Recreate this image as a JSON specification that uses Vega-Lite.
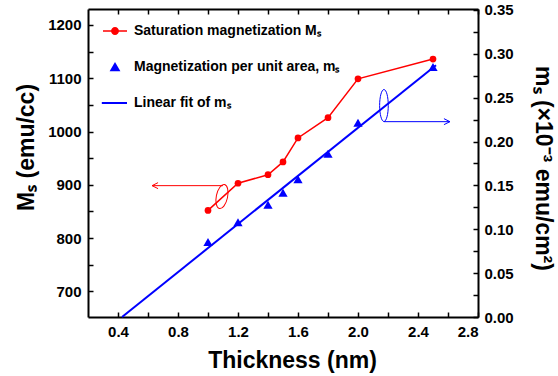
{
  "$schema": "https://vega.github.io/schema/vega-lite/v6.json",
  "width": 390,
  "height": 308,
  "autosize": {"type": "none"},
  "padding": {"left": 88, "top": 9, "right": 80, "bottom": 59},
  "background": "white",
  "config": {
    "view": {"stroke": null},
    "font": "Liberation Sans",
    "axis": {
      "domainColor": "black", "domainWidth": 2,
      "tickColor": "black", "tickWidth": 1.5, "tickSize": -5,
      "labelFont": "Liberation Sans", "labelFontWeight": "bold", "labelFontSize": 15, "labelColor": "black",
      "titleFont": "Liberation Sans", "titleFontWeight": "bold", "titleFontSize": 23, "titleColor": "black",
      "grid": false
    },
    "legend": {
      "orient": "none", "legendX": 15, "legendY": 10, "padding": 0,
      "labelFont": "Liberation Sans", "labelFontWeight": "bold", "labelFontSize": 14, "labelColor": "black",
      "labelLimit": 400, "symbolSize": 576, "labelOffset": 7, "rowPadding": 17,
      "symbolStrokeWidth": 0, "symbolOpacity": 1
    }
  },
  "datasets": {
    "Ms": [
      {"t": 1.0, "Ms": 852, "series": "Saturation magnetization Mₛ"},
      {"t": 1.2, "Ms": 903, "series": "Saturation magnetization Mₛ"},
      {"t": 1.4, "Ms": 919, "series": "Saturation magnetization Mₛ"},
      {"t": 1.5, "Ms": 943, "series": "Saturation magnetization Mₛ"},
      {"t": 1.6, "Ms": 988, "series": "Saturation magnetization Mₛ"},
      {"t": 1.8, "Ms": 1026, "series": "Saturation magnetization Mₛ"},
      {"t": 2.0, "Ms": 1099, "series": "Saturation magnetization Mₛ"},
      {"t": 2.5, "Ms": 1136, "series": "Saturation magnetization Mₛ"}
    ],
    "ms": [
      {"t": 1.0, "ms": 0.0856, "series": "Magnetization per unit area, mₛ"},
      {"t": 1.2, "ms": 0.108, "series": "Magnetization per unit area, mₛ"},
      {"t": 1.4, "ms": 0.128, "series": "Magnetization per unit area, mₛ"},
      {"t": 1.5, "ms": 0.1416, "series": "Magnetization per unit area, mₛ"},
      {"t": 1.6, "ms": 0.157, "series": "Magnetization per unit area, mₛ"},
      {"t": 1.8, "ms": 0.186, "series": "Magnetization per unit area, mₛ"},
      {"t": 2.0, "ms": 0.2215, "series": "Magnetization per unit area, mₛ"},
      {"t": 2.5, "ms": 0.285, "series": "Magnetization per unit area, mₛ"}
    ],
    "fit": [
      {"t": 0.427, "ms": 0.0},
      {"t": 2.52, "ms": 0.287}
    ],
    "redArrow": [{"t": 0.627, "t2": 1.1, "Ms": 898.5}],
    "redEllipse": [{"t": 1.093, "Ms": 878}],
    "blueArrow": [{"t": 2.613, "t2": 2.173, "ms": 0.2226}],
    "blueEllipse": [{"t": 2.173, "ms": 0.241}]
  },
  "layer": [
    {
      "encoding": {
        "x": {
          "field": "t", "type": "quantitative",
          "scale": {"domain": [0.2, 2.8], "nice": false, "zero": false},
          "axis": {
            "orient": "bottom",
            "values": [0.4, 0.6, 0.8, 1.0, 1.2, 1.4, 1.6, 1.8, 2.0, 2.2, 2.4, 2.6, 2.8],
            "labelExpr": "round(datum.value*10) % 4 == 0 ? format(datum.value, '.1f') : ''",
            "labelPadding": 12,
            "title": "Thickness (nm)",
            "titleX": 204, "titleY": 50, "titleBaseline": "alphabetic"
          }
        },
        "y": {
          "field": "Ms", "type": "quantitative",
          "scale": {"domain": [652, 1230], "nice": false, "zero": false},
          "axis": {
            "orient": "left",
            "values": [700, 750, 800, 850, 900, 950, 1000, 1050, 1100, 1150, 1200],
            "labelExpr": "datum.value % 100 == 0 ? datum.value : ''",
            "labelPadding": 12,
            "title": "Mₛ (emu/cc)",
            "titleX": -55, "titleY": 138, "titleBaseline": "alphabetic", "titleAngle": 270
          }
        }
      },
      "layer": [
        {
          "data": {"name": "Ms"},
          "transform": [{"filter": "false"}],
          "mark": {"type": "point", "filled": true, "size": 576, "opacity": 1},
          "encoding": {
            "color": {
              "field": "series", "type": "nominal",
              "scale": {
                "domain": ["Saturation magnetization Mₛ", "Magnetization per unit area, mₛ", "Linear fit of mₛ"],
                "range": ["#ff0000", "#0000ff", "#0000ff"]
              },
              "legend": {"title": null}
            },
            "shape": {
              "field": "series", "type": "nominal",
              "scale": {
                "domain": ["Saturation magnetization Mₛ", "Magnetization per unit area, mₛ", "Linear fit of mₛ"],
                "range": [
                  "M-1,-0.0625H1V0.0625H-1Z M-0.33,0A0.33,0.33 0 1,1 0.33,0A0.33,0.33 0 1,1 -0.33,0Z",
                  "M0,-0.42L0.45,0.36L-0.45,0.36Z",
                  "M-1.1,-0.085H1V0.085H-1.1Z"
                ]
              },
              "legend": {"title": null}
            }
          }
        },
        {"data": {"name": "Ms"}, "mark": {"type": "line", "color": "#ff0000", "strokeWidth": 1.5}},
        {
          "data": {"name": "Ms"},
          "mark": {"type": "point", "shape": "circle", "filled": true, "size": 45, "opacity": 1},
          "encoding": {"color": {"field": "series", "type": "nominal"}}
        },
        {
          "data": {"name": "redArrow"},
          "mark": {"type": "rule", "color": "#ff0000", "strokeWidth": 1},
          "encoding": {"x2": {"field": "t2"}}
        },
        {
          "data": {"name": "redArrow"},
          "mark": {"type": "point", "shape": "M1,-0.5L0,0L1,0.5", "filled": false, "size": 144, "color": "#ff0000", "strokeWidth": 1, "opacity": 1}
        },
        {
          "data": {"name": "redEllipse"},
          "mark": {"type": "point", "shape": "M0,-1A0.46,1 0 1,1 0,1A0.46,1 0 1,1 0,-1Z", "filled": false, "size": 600, "angle": 12, "color": "#ff0000", "strokeWidth": 1, "opacity": 1}
        }
      ]
    },
    {
      "encoding": {
        "x": {
          "field": "t", "type": "quantitative",
          "scale": {"domain": [0.2, 2.8], "nice": false, "zero": false},
          "axis": {
            "orient": "top",
            "values": [0.4, 0.6, 0.8, 1.0, 1.2, 1.4, 1.6, 1.8, 2.0, 2.2, 2.4, 2.6, 2.8],
            "labels": false,
            "title": null
          }
        },
        "y": {
          "field": "ms", "type": "quantitative",
          "scale": {"domain": [0, 0.351], "nice": false, "zero": false},
          "axis": {
            "orient": "right",
            "values": [0, 0.025, 0.05, 0.075, 0.1, 0.125, 0.15, 0.175, 0.2, 0.225, 0.25, 0.275, 0.3, 0.325, 0.35],
            "labelExpr": "round(datum.value*1000) % 50 == 0 ? format(datum.value, '.2f') : ''",
            "labelPadding": 11,
            "title": "mₛ (×10⁻³ emu/cm²)",
            "titleX": 57, "titleY": 159, "titleBaseline": "alphabetic", "titleAngle": 90
          }
        }
      },
      "layer": [
        {
          "data": {"name": "ms"},
          "mark": {"type": "point", "shape": "triangle-up", "filled": true, "size": 85, "opacity": 1},
          "encoding": {"color": {"field": "series", "type": "nominal"}}
        },
        {"data": {"name": "fit"}, "mark": {"type": "line", "color": "#0000ff", "strokeWidth": 2}},
        {
          "data": {"name": "blueArrow"},
          "mark": {"type": "rule", "color": "#0000ff", "strokeWidth": 1},
          "encoding": {"x2": {"field": "t2"}}
        },
        {
          "data": {"name": "blueArrow"},
          "mark": {"type": "point", "shape": "M-1,-0.5L0,0L-1,0.5", "filled": false, "size": 144, "color": "#0000ff", "strokeWidth": 1, "opacity": 1}
        },
        {
          "data": {"name": "blueEllipse"},
          "mark": {"type": "point", "shape": "M0,-1A0.27,1 0 1,1 0,1A0.27,1 0 1,1 0,-1Z", "filled": false, "size": 1024, "color": "#0000ff", "strokeWidth": 1, "opacity": 1}
        }
      ]
    }
  ],
  "resolve": {
    "scale": {"y": "independent"},
    "axis": {"x": "independent", "y": "independent"}
  }
}
